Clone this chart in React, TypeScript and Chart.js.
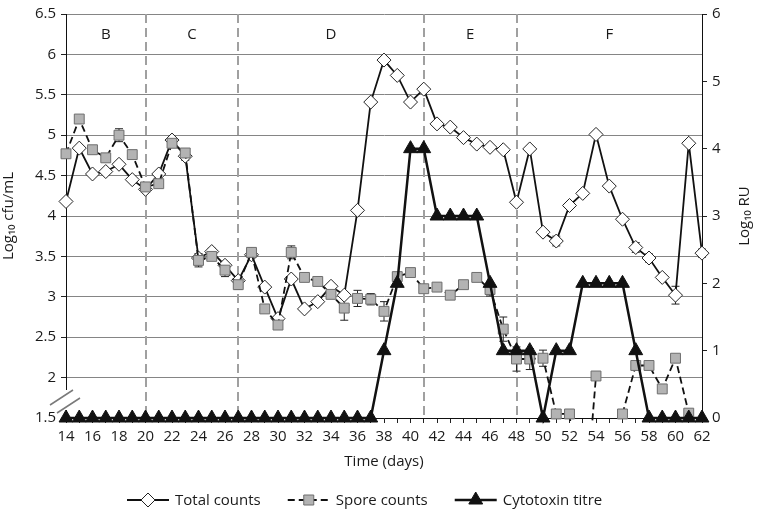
import React, { useEffect, useRef } from 'react';
import { Chart, registerables } from 'chart.js';

Chart.register(...registerables);

const days = [14, 15, 16, 17, 18, 19, 20, 21, 22, 23, 24, 25, 26, 27, 28, 29, 30, 31, 32, 33, 34, 35, 36, 37, 38, 39, 40, 41, 42, 43, 44, 45, 46, 47, 48, 49, 50, 51, 52, 53, 54, 55, 56, 57, 58, 59, 60, 61, 62];

const totalCounts = [4.18, 4.84, 4.52, 4.55, 4.64, 4.45, 4.33, 4.52, 4.94, 4.74, 3.48, 3.56, 3.39, 3.2, 3.52, 3.12, 2.73, 3.22, 2.85, 2.94, 3.13, 3.02, 4.07, 5.41, 5.93, 5.74, 5.41, 5.57, 5.14, 5.1, 4.97, 4.89, 4.85, 4.82, 4.17, 4.83, 3.8, 3.69, 4.13, 4.28, 5.01, 4.37, 3.96, 3.61, 3.48, 3.24, 3.02, 4.9, 3.54];
const totalErr = [0, 0, 0, 0, 0, 0, 0, 0, 0, 0.05, 0.05, 0.04, 0, 0.05, 0, 0, 0, 0, 0, 0, 0, 0, 0, 0, 0, 0, 0, 0, 0, 0, 0, 0, 0, 0, 0, 0, 0, 0.06, 0, 0, 0, 0, 0, 0.06, 0.05, 0, 0.11, 0, 0.05];

const sporeCounts: (number | null)[] = [4.77, 5.2, 4.82, 4.72, 5.0, 4.76, 4.36, 4.4, 4.9, 4.78, 3.45, 3.5, 3.33, 3.15, 3.55, 2.85, 2.65, 3.55, 3.24, 3.19, 3.03, 2.86, 2.98, 2.97, 2.82, 3.25, 3.3, 3.1, 3.12, 3.02, 3.15, 3.24, 3.09, 2.6, 2.23, 2.23, 2.24, 1.55, 1.55, 0, 2.02, null, 1.55, 2.15, 2.15, 1.86, 2.24, 1.56, null];
const sporeErr = [0, 0, 0, 0, 0.08, 0, 0, 0, 0, 0.05, 0.08, 0, 0.08, 0.06, 0.05, 0, 0.03, 0.08, 0, 0, 0, 0.15, 0.1, 0.07, 0.12, 0, 0, 0, 0, 0, 0, 0, 0.08, 0.15, 0.15, 0.13, 0.1, 0, 0, 0, 0, 0, 0, 0, 0, 0, 0, 0, 0];

const cytotoxin = [0, 0, 0, 0, 0, 0, 0, 0, 0, 0, 0, 0, 0, 0, 0, 0, 0, 0, 0, 0, 0, 0, 0, 0, 1, 2, 4, 4, 3, 3, 3, 3, 2, 1, 1, 1, 0, 1, 1, 2, 2, 2, 2, 1, 0, 0, 0, 0, 0];

const phaseBounds = [20, 27, 41, 48];
const phaseNames = ['B', 'C', 'D', 'E', 'F'];

const leftTitle = 'Log\u2081\u2080 cfu/mL';
const rightTitle = 'Log\u2081\u2080 RU';
const xTitle = 'Time (days)';

const FONT = '"Open Sans", "Noto Sans", sans-serif';
const TXT = '#1a1a1a';

function drawMarker(ctx: CanvasRenderingContext2D, kind: string, x: number, y: number) {
  ctx.save();
  ctx.setLineDash([]);
  ctx.lineWidth = 1;
  ctx.beginPath();
  if (kind === 'diamond') {
    const r = 7;
    ctx.moveTo(x, y - r); ctx.lineTo(x + r, y); ctx.lineTo(x, y + r); ctx.lineTo(x - r, y); ctx.closePath();
    ctx.fillStyle = '#fff'; ctx.strokeStyle = '#222';
  } else if (kind === 'square') {
    const s = 5;
    ctx.rect(x - s, y - s, 2 * s, 2 * s);
    ctx.fillStyle = '#b3b3b3'; ctx.strokeStyle = '#6e6e6e';
  } else {
    const r = 8;
    ctx.moveTo(x, y - r); ctx.lineTo(x + r * 0.866, y + r / 2); ctx.lineTo(x - r * 0.866, y + r / 2); ctx.closePath();
    ctx.fillStyle = '#111'; ctx.strokeStyle = '#111';
  }
  ctx.fill(); ctx.stroke();
  ctx.restore();
}

const decor = {
  id: 'decor',
  beforeDatasetsDraw(chart: any) {
    const { ctx, chartArea: a, scales } = chart;
    const x = scales.x, y = scales.y;
    ctx.save();
    ctx.strokeStyle = '#a0a0a0';
    ctx.lineWidth = 2;
    ctx.setLineDash([9, 5]);
    for (const d of phaseBounds) {
      const px = Math.round(x.getPixelForValue(d));
      ctx.beginPath(); ctx.moveTo(px, a.top); ctx.lineTo(px, a.bottom); ctx.stroke();
    }
    ctx.setLineDash([]);
    ctx.strokeStyle = '#222';
    ctx.lineWidth = 1;
    const bars = (vals: (number | null)[], errs: number[]) => {
      vals.forEach((v, i) => {
        const e = errs[i];
        if (v === null || !e) return;
        const px = x.getPixelForValue(days[i]);
        const y1 = y.getPixelForValue(v + e), y2 = y.getPixelForValue(v - e);
        ctx.beginPath();
        ctx.moveTo(px, y1); ctx.lineTo(px, y2);
        ctx.moveTo(px - 4, y1); ctx.lineTo(px + 4, y1);
        ctx.moveTo(px - 4, y2); ctx.lineTo(px + 4, y2);
        ctx.stroke();
      });
    };
    bars(totalCounts, totalErr);
    bars(sporeCounts, sporeErr);
    ctx.restore();
  },
  afterDraw(chart: any) {
    const { ctx, chartArea: a, scales } = chart;
    const x = scales.x;
    ctx.save();
    ctx.fillStyle = TXT;
    ctx.font = `15px ${FONT}`;
    ctx.textAlign = 'center';
    ctx.textBaseline = 'middle';
    const edges = [x.min, ...phaseBounds, x.max];
    phaseNames.forEach((n, i) => {
      const c = (x.getPixelForValue(edges[i]) + x.getPixelForValue(edges[i + 1])) / 2;
      ctx.fillText(n, c, a.top + 21);
    });
    ctx.fillText(xTitle, (a.left + a.right) / 2, 462);
    // right axis title, reading bottom to top
    ctx.save();
    ctx.translate(745, (a.top + a.bottom) / 2);
    ctx.rotate(-Math.PI / 2);
    ctx.fillText(rightTitle, 0, 0);
    ctx.restore();
    // axis break
    ctx.fillStyle = '#fff';
    ctx.fillRect(a.left - 2, 390, 4, 20);
    ctx.strokeStyle = '#7a7a7a';
    ctx.lineWidth = 1.5;
    ctx.beginPath();
    ctx.moveTo(50, 405); ctx.lineTo(73, 390);
    ctx.moveTo(57, 413); ctx.lineTo(80, 398);
    ctx.stroke();
    // legend
    const ly = 500;
    let lx = 127;
    ctx.font = `15px ${FONT}`;
    ctx.textAlign = 'left';
    const kinds = ['diamond', 'square', 'triangle'];
    chart.data.datasets.forEach((ds: any, i: number) => {
      ctx.strokeStyle = '#111';
      ctx.lineWidth = i === 2 ? 2.5 : 1.8;
      ctx.setLineDash(i === 1 ? [7, 4] : []);
      ctx.beginPath(); ctx.moveTo(lx, ly); ctx.lineTo(lx + 42, ly); ctx.stroke();
      ctx.setLineDash([]);
      drawMarker(ctx, kinds[i], lx + 21, ly);
      ctx.fillStyle = TXT;
      ctx.fillText(ds.label, lx + 48, ly + 1);
      lx += 48 + ctx.measureText(ds.label).width + 27;
    });
    ctx.restore();
  },
};

export default function App() {
  const ref = useRef<HTMLCanvasElement | null>(null);
  useEffect(() => {
    document.body.style.margin = '0';
    const canvas = ref.current!;
    const chart = new Chart(canvas, {
      type: 'line',
      data: {
        labels: days,
        datasets: [
          {
            label: 'Total counts',
            data: days.map((d, i) => ({ x: d, y: totalCounts[i] })),
            yAxisID: 'y',
            borderColor: '#111',
            borderWidth: 1.8,
            pointStyle: 'rectRot',
            pointRadius: 7,
            pointHoverRadius: 7,
            pointBackgroundColor: '#fff',
            pointBorderColor: '#222',
            pointBorderWidth: 1,
            tension: 0,
            order: 2,
            clip: { left: 10, right: 10, top: 10, bottom: 3 },
          },
          {
            label: 'Spore counts',
            data: days.map((d, i) => ({ x: d, y: sporeCounts[i] })),
            yAxisID: 'y',
            borderColor: '#111',
            borderWidth: 1.8,
            borderDash: [7, 4],
            pointStyle: 'rect',
            pointRadius: 7,
            pointHoverRadius: 7,
            pointBackgroundColor: '#b3b3b3',
            pointBorderColor: '#6e6e6e',
            pointBorderWidth: 1,
            spanGaps: false,
            tension: 0,
            order: 1,
            clip: { left: 10, right: 10, top: 10, bottom: 3 },
          },
          {
            label: 'Cytotoxin titre',
            data: days.map((d, i) => ({ x: d, y: cytotoxin[i] })),
            yAxisID: 'y2',
            borderColor: '#111',
            borderWidth: 2.5,
            pointStyle: 'triangle',
            pointRadius: 8,
            pointHoverRadius: 8,
            pointBackgroundColor: '#111',
            pointBorderColor: '#111',
            pointBorderWidth: 1,
            tension: 0,
            order: 0,
            clip: false,
          },
        ],
      },
      options: {
        animation: false,
        responsive: true,
        maintainAspectRatio: false,
        layout: { padding: { top: 10, left: 0, right: 0, bottom: 0 } },
        plugins: { legend: { display: false }, tooltip: { enabled: false } },
        scales: {
          x: {
            type: 'linear',
            min: 14,
            max: 62,
            ticks: {
              stepSize: 1,
              autoSkip: false,
              maxRotation: 0,
              padding: 5,
              color: TXT,
              font: { family: FONT, size: 15 },
              callback: (v: any) => (Number(v) % 2 === 0 ? String(v) : ''),
            },
            grid: { drawOnChartArea: false, drawTicks: true, tickLength: 5, color: '#222' },
            border: { color: '#111', width: 1 },
            afterFit: (s: any) => { s.height = 95; },
          },
          y: {
            position: 'left',
            min: 1.5,
            max: 6.5,
            ticks: { stepSize: 0.5, padding: 5, color: TXT, font: { family: FONT, size: 15 }, callback: (v: any) => String(v) },
            grid: { color: '#858585', lineWidth: 1, tickLength: 5, tickColor: '#222' },
            border: { color: '#111', width: 1 },
            title: { display: true, text: leftTitle, color: TXT, font: { family: FONT, size: 15 }, padding: 0 },
            afterFit: (s: any) => { s.width = 66; },
          },
          y2: {
            position: 'right',
            min: 0,
            max: 6,
            ticks: { stepSize: 1, padding: 5, color: TXT, font: { family: FONT, size: 15 } },
            grid: { drawOnChartArea: false, tickLength: 5, color: '#222' },
            border: { color: '#111', width: 1 },
            afterFit: (s: any) => { s.width = 55; },
          },
        },
      },
      plugins: [decor],
    } as any);
    return () => chart.destroy();
  }, []);
  return (
    <div style={{ position: 'absolute', left: 0, top: 0, width: 757, height: 513 }}>
      <canvas ref={ref} />
    </div>
  );
}
